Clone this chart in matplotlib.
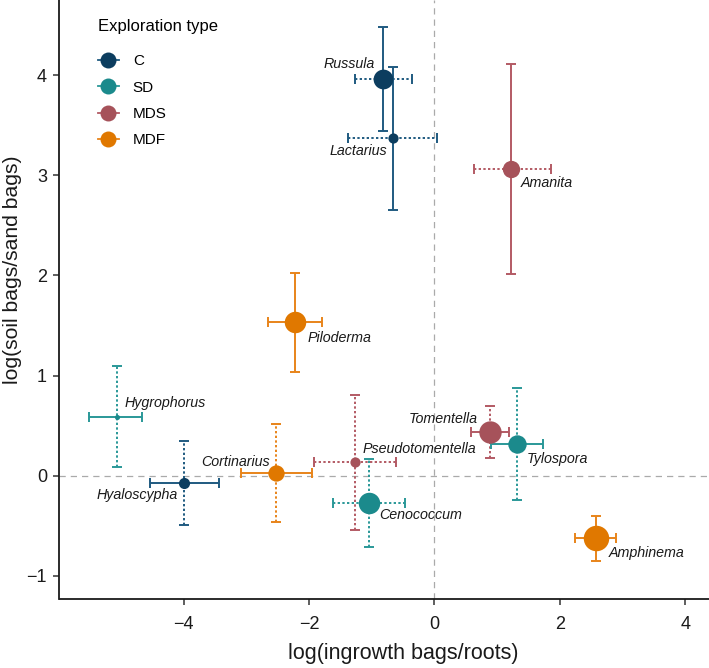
import matplotlib
matplotlib.use("Agg")
import matplotlib.pyplot as plt
from matplotlib.lines import Line2D
import numpy as np

plt.rcParams['font.family'] = ['Liberation Sans', 'DejaVu Sans']

# data
genus = ['Russula', 'Lactarius', 'Amanita', 'Piloderma', 'Hygrophorus', 'Hyaloscypha',
         'Cortinarius', 'Pseudotomentella', 'Cenococcum', 'Tomentella', 'Tylospora', 'Amphinema']
expl_type = ['C', 'C', 'MDS', 'MDF', 'SD', 'C', 'MDF', 'MDS', 'SD', 'MDS', 'SD', 'MDF']
x_val = [-0.82, -0.66, 1.22, -2.23, -5.07, -3.99, -2.52, -1.26, -1.04, 0.89, 1.32, 2.58]
x_lo = [-1.26, -1.38, 0.63, -2.65, -5.51, -4.53, -3.08, -1.92, -1.61, 0.58, 0.90, 2.24]
x_hi = [-0.36, 0.04, 1.86, -1.80, -4.66, -3.44, -1.96, -0.61, -0.47, 1.19, 1.73, 2.89]
y_val = [3.96, 3.37, 3.06, 1.54, 0.59, -0.07, 0.03, 0.14, -0.27, 0.44, 0.32, -0.62]
y_lo = [3.44, 2.65, 2.01, 1.04, 0.09, -0.49, -0.46, -0.54, -0.71, 0.18, -0.24, -0.85]
y_hi = [4.48, 4.08, 4.11, 2.02, 1.10, 0.35, 0.52, 0.81, 0.17, 0.70, 0.88, -0.40]
# whether the ratio differs from zero (solid) or not (dotted)
x_sig = [False, False, False, True, True, True, True, False, False, True, True, True]
y_sig = [True, True, True, True, False, False, False, False, False, False, False, True]
abundance = [60, 16, 46, 71, 4, 19, 41, 16, 71, 77, 52, 100]

types = ['C', 'SD', 'MDS', 'MDF']
pt_col = {'C': '#0c3d5f', 'SD': '#1b8a8c', 'MDS': '#a6525a', 'MDF': '#e07800'}
bar_col = {'C': '#1f5a80', 'SD': '#2a9898', 'MDS': '#b35a64', 'MDF': '#e8841a'}

# label offsets in points (dx, dy, ha)
lab_off = {'Russula': (-6, 11, 'right'), 'Lactarius': (-4, -9, 'right'),
           'Amanita': (7, -10, 'left'), 'Piloderma': (9, -12, 'left'),
           'Hygrophorus': (6, 10, 'left'), 'Hyaloscypha': (-5, -9, 'right'),
           'Cortinarius': (-5, 8, 'right'), 'Pseudotomentella': (5, 9, 'left'),
           'Cenococcum': (7, -9, 'left'), 'Tomentella': (-9, 9, 'right'),
           'Tylospora': (7, -11, 'left'), 'Amphinema': (9, -11, 'left')}

fig = plt.figure(figsize=(7.09, 6.68), dpi=100)
ax = fig.add_axes([59.5 / 709, 69 / 668, 1 - 59.5 / 709, 1 - 69 / 668])

ax.axhline(0, color='#aaaaaa', lw=0.9, ls=(0, (5, 4)), zorder=0)
ax.axvline(0, color='#aaaaaa', lw=0.9, ls=(0, (5, 4)), zorder=0)

for i, g in enumerate(genus):
    c = bar_col[expl_type[i]]
    e1 = ax.errorbar(x_val[i], y_val[i], xerr=[[x_val[i] - x_lo[i]], [x_hi[i] - x_val[i]]],
                     fmt='none', ecolor=c, elinewidth=1.4, capsize=3.5, capthick=1.4, zorder=2)
    if not x_sig[i]:
        e1[2][0].set_linestyle((0, (1.2, 1.2)))
    e2 = ax.errorbar(x_val[i], y_val[i], yerr=[[y_val[i] - y_lo[i]], [y_hi[i] - y_val[i]]],
                     fmt='none', ecolor=c, elinewidth=1.4, capsize=3.5, capthick=1.4, zorder=2)
    if not y_sig[i]:
        e2[2][0].set_linestyle((0, (1.2, 1.2)))
    d = 25.5 * np.sqrt(abundance[i] / 100) * 0.72
    ax.plot(x_val[i], y_val[i], 'o', ms=d, color=pt_col[expl_type[i]], mec='none', zorder=3)
    dx, dy, ha = lab_off[g]
    ax.annotate(g, (x_val[i], y_val[i]), xytext=(dx, dy), textcoords='offset points',
                ha=ha, va='center', fontsize=10.3, style='italic', color='#1a1a1a', zorder=4)

ax.set_xlim(-5.98, 4.38)
ax.set_ylim(-1.23, 4.75)
ax.set_xticks([-4, -2, 0, 2, 4])
ax.set_yticks([-1, 0, 1, 2, 3, 4])
ax.spines['top'].set_visible(False)
ax.spines['right'].set_visible(False)
for s in ['left', 'bottom']:
    ax.spines[s].set_linewidth(1.3)
    ax.spines[s].set_color('#1a1a1a')
ax.tick_params(length=4, width=1.1, color='#333333', labelsize=13, labelcolor='#1a1a1a')
ax.tick_params(axis='x', pad=8)
ax.tick_params(axis='y', pad=5)
ax.set_xlabel('log(ingrowth bags/roots)', fontsize=15.5, color='#1a1a1a')
ax.set_ylabel('log(soil bags/sand bags)', fontsize=15.2, color='#1a1a1a')
ax.xaxis.set_label_coords(0.530, -0.074)
ax.yaxis.set_label_coords(-0.058, 0.549)
ax.patch.set_alpha(0)

handles = [Line2D([0], [0], color=bar_col[t], lw=1.3, marker='o', ms=11.5,
                  mfc=pt_col[t], mec='none') for t in types]
leg = ax.legend(handles, types, title='Exploration type', loc='upper left',
                bbox_to_anchor=(90 / 709, 1 - 11 / 668), bbox_transform=fig.transFigure,
                frameon=False, fontsize=11, title_fontsize=12, handlelength=1.4,
                handletextpad=0.9, labelspacing=0.8, borderpad=0, alignment='left')
leg._legend_box.sep = 15

fig.savefig('out.png', dpi=100)
